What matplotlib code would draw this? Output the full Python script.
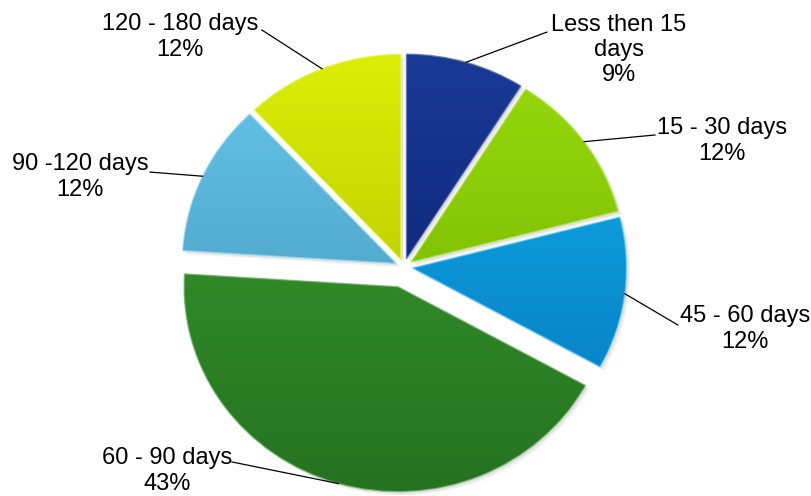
import numpy as np
import matplotlib
matplotlib.use("Agg")
import matplotlib.pyplot as plt
from matplotlib.patches import Wedge
from matplotlib.colors import LinearSegmentedColormap, to_rgb

plt.rcParams['font.family'] = ['Liberation Sans', 'DejaVu Sans']

labels = ['Less then 15\ndays', '15 - 30 days', '45 - 60 days',
          '60 - 90 days', '90 -120 days', '120 - 180 days']
shares = [9, 12, 12, 43, 12, 12]
explode = [0.04, 0.04, 0.04, 0.10, 0.04, 0.04]

# top / bottom gradient colours for each slice
top_colors = ['#1a3a96', '#98da0c', '#10b0ec', '#3c9c30', '#66c6ea', '#dcee06']
bottom_colors = ['#061a68', '#6cae00', '#0676bc', '#257220', '#4290b6', '#a8b800']

# label text centres and leader-line ends (data units)
label_xy = [(1.005, 1.059), (1.486, 0.615), (1.593, -0.302),
            (-1.107, -0.995), (-1.514, 0.439), (-1.047, 1.122)]
leader_end = [(0.668, 1.146), (1.173, 0.644), (1.280, -0.283),
              (-0.804, -0.951), (-1.187, 0.463), (-0.664, 1.156)]

fig = plt.figure(figsize=(8.12, 4.96), dpi=100)
ax = fig.add_axes([0, 0, 1, 1])

wedges, _ = ax.pie(shares, explode=explode, startangle=90, counterclock=False,
                   radius=1.0, wedgeprops=dict(linewidth=0))

# slightly wider than tall
ax.set_aspect('auto')
ax.set_xlim(-404 / 214, (812 - 404) / 214)
ax.set_ylim(-(496 - 267) / 205, 267 / 205)
ax.axis('off')

grad = np.linspace(0, 1, 256).reshape(-1, 1)
for w, c0, c1 in zip(wedges, top_colors, bottom_colors):
    cx, cy = w.center
    cmap = LinearSegmentedColormap.from_list('g', [c1, c0])
    w.set_facecolor(c0)
    w.set_zorder(1)
    light = tuple(min(1, v * 0.6 + 0.4) for v in to_rgb(c0))
    # soft shadow behind the slice
    for k, a in ((0.018, 0.05), (0.010, 0.07)):
        ax.add_patch(Wedge((cx + k, cy - k), w.r, w.theta1, w.theta2,
                           facecolor='black', alpha=a, lw=0, zorder=0.5))
    im = ax.imshow(grad, cmap=cmap, origin='lower', aspect='auto',
                   extent=(cx - 1, cx + 1, cy - 1, cy + 1), zorder=1.5,
                   interpolation='bilinear')
    im.set_clip_path(w)
    # bevel rim on top of the gradient
    ax.add_patch(Wedge((cx, cy), w.r, w.theta1, w.theta2, facecolor='none',
                       edgecolor=light, lw=1.0, alpha=0.7, zorder=2))

for w, lab, val, (tx, ty), (ex, ey) in zip(wedges, labels, shares, label_xy, leader_end):
    mid = np.deg2rad((w.theta1 + w.theta2) / 2)
    cx, cy = w.center
    px, py = cx + np.cos(mid), cy + np.sin(mid)
    ax.plot([px, ex], [py, ey], color='black', lw=0.9, zorder=3)
    ax.text(tx, ty, f'{lab}\n{val}%', ha='center', va='center', fontsize=17,
            linespacing=1.2, color='black', zorder=4)

fig.savefig('out.png', dpi=100)
